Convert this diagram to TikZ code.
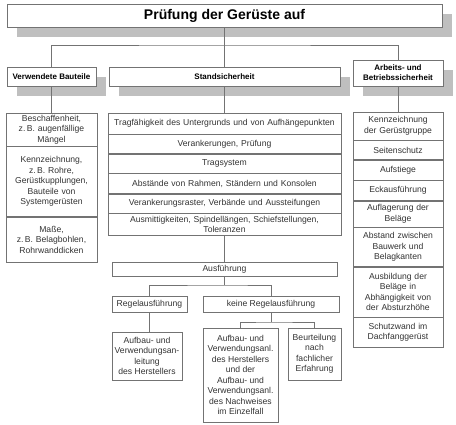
\documentclass[tikz,border=0pt]{standalone}
\usepackage{fontspec}
\setmainfont{Liberation Sans}
\usetikzlibrary{positioning,shadows}

\tikzset{
  kasten/.style={draw=black!55, line width=0.5pt, fill=white, inner sep=1pt,
    align=center, text=black!80, font=\fontsize{8.6}{10.5}\selectfont},
  kopf/.style={kasten, text=black, font=\fontsize{8}{10}\selectfont\bfseries},
  schatten/.style={drop shadow={shadow xshift=10pt, shadow yshift=-10pt,
    fill=black!25, opacity=1}},
  links/.style={kasten, minimum width=91pt, text width=87pt},
  mitte/.style={kasten, minimum width=233pt, text width=229pt},
  rechts/.style={kasten, minimum width=90pt, text width=86pt},
  verb/.style={draw=black!55, line width=0.5pt}
}

\begin{document}
\begin{tikzpicture}[x=1pt,y=-1pt]
  \useasboundingbox (0,0) rectangle (456,425);

  % Kopf
  \node[kopf, schatten, font=\fontsize{14}{16}\selectfont\bfseries,
    minimum width=435pt, minimum height=23pt] (titel) at (224.5,15.5) {Prüfung der Gerüste auf};

  % zweite Ebene
  \node[kopf, schatten, minimum width=89pt, minimum height=19pt] (bauteile) at (51.5,76.5) {Verwendete Bauteile};
  \node[kopf, schatten, minimum width=231pt, minimum height=19pt] (stand) at (224.5,76.5) {Standsicherheit};
  \node[kopf, schatten, minimum width=90pt, minimum height=26pt] (arbeit) at (398,73) {Arbeits- und\\Betriebssicherheit};

  \coordinate (oben) at (224.5,45);
  \draw[verb] (titel) -- (stand);
  \draw[verb] (bauteile.north) |- (oben) -| (arbeit.north);

  % Spalte links
  \node[links, minimum height=33pt] (b1) at (51.5,129.5) {Beschaffenheit,\\z.\,B. augenfällige\\Mängel};
  \node[links, minimum height=70pt, below=0pt of b1] (b2) {Kennzeichnung,\\z.\,B. Rohre,\\Gerüstkupplungen,\\Bauteile von\\Systemgerüsten};
  \node[links, minimum height=45pt, below=0pt of b2] (b3) {Maße,\\z.\,B. Belagbohlen,\\Rohrwanddicken};

  % Spalte Mitte
  \node[mitte, minimum height=21pt] (s1) at (224.5,123.5) {Tragfähigkeit des Untergrunds und von Aufhängepunkten};
  \node[mitte, minimum height=19pt, below=0pt of s1] (s2) {Verankerungen, Prüfung};
  \node[mitte, minimum height=19pt, below=0pt of s2] (s3) {Tragsystem};
  \node[mitte, minimum height=20pt, below=0pt of s3] (s4) {Abstände von Rahmen, Ständern und Konsolen};
  \node[mitte, minimum height=19pt, below=0pt of s4] (s5) {Verankerungsraster, Verbände und Aussteifungen};
  \node[mitte, minimum height=22pt, below=0pt of s5] (s6) {Ausmittigkeiten, Spindellängen, Schiefstellungen,\\Toleranzen};

  % Spalte rechts
  \node[rechts, minimum height=28pt] (a1) at (398,126) {Kennzeichnung\\der Gerüstgruppe};
  \node[rechts, minimum height=19pt, below=0pt of a1] (a2) {Seitenschutz};
  \node[rechts, minimum height=20pt, below=0pt of a2] (a3) {Aufstiege};
  \node[rechts, minimum height=20pt, below=0pt of a3] (a4) {Eckausführung};
  \node[rechts, minimum height=26pt, below=0pt of a4] (a5) {Auflagerung der\\Beläge};
  \node[rechts, minimum height=39pt, below=0pt of a5] (a6) {Abstand zwischen\\Bauwerk und\\Belagkanten};
  \node[rechts, minimum height=50pt, below=0pt of a6] (a7) {Ausbildung der\\Beläge in\\Abhängigkeit von\\der Absturzhöhe};
  \node[rechts, minimum height=30pt, below=0pt of a7] (a8) {Schutzwand im\\Dachfanggerüst};

  \draw[verb] (bauteile) -- (b1);
  \draw[verb] (stand) -- (s1);
  \draw[verb] (arbeit) -- (a1);

  % Ausführung
  \node[kasten, minimum width=225pt, minimum height=14pt] (ausf) at (224.5,269) {Ausführung};
  \node[kasten, minimum width=75pt, minimum height=16pt] (regel) at (149.5,304) {Regelausführung};
  \node[kasten, minimum width=136pt, minimum height=16pt] (keine) at (271,304) {keine Regelausführung};
  \node[kasten, minimum width=70pt, minimum height=48pt] (herst) at (147,356) {Aufbau- und\\Verwendungsan-\\leitung\\des Herstellers};
  \node[kasten, minimum width=75pt, minimum height=94pt] (einzel) at (240.5,375) {Aufbau- und\\Verwendungsanl.\\des Herstellers\\und der\\Aufbau- und\\Verwendungsanl.\\des Nachweises\\im Einzelfall};
  \node[kasten, minimum width=53pt, minimum height=52pt] (erfahr) at (314.5,354) {Beurteilung\\nach\\fachlicher\\Erfahrung};

  \coordinate (gabel) at (224.5,285);
  \coordinate (gabel2) at (271,322);
  \draw[verb] (s6) -- (ausf);
  \draw[verb] (ausf) -- (gabel);
  \draw[verb] (regel.north) |- (gabel) -| (keine.north);
  \draw[verb] (regel.south) -- (regel.south |- herst.north);
  \draw[verb] (keine) -- (gabel2);
  \draw[verb] (einzel.north) |- (gabel2) -| (erfahr.north);
\end{tikzpicture}
\end{document}
